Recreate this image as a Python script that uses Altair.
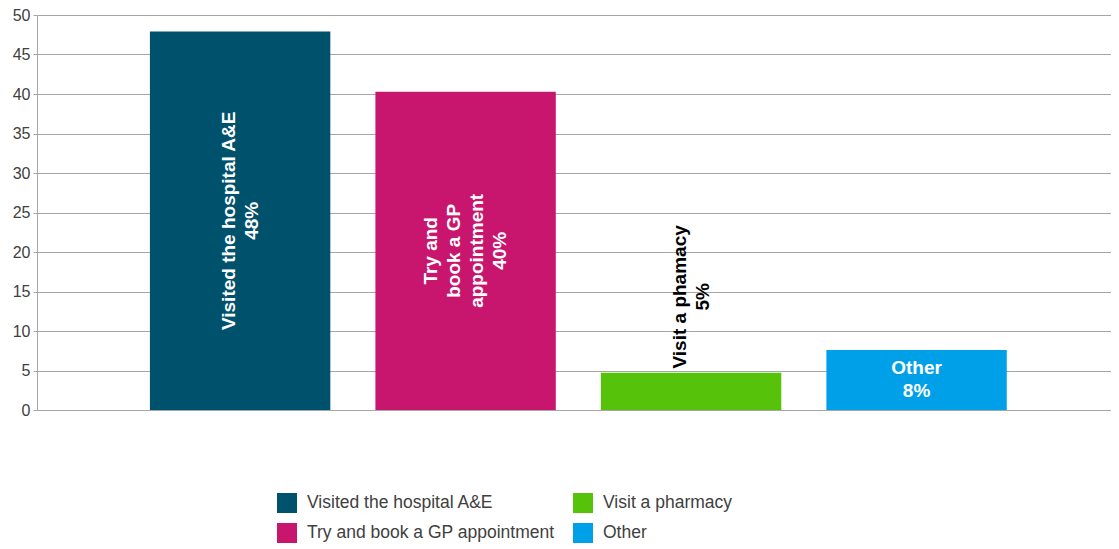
import altair as alt
import pandas as pd

categories = ["Visited the hospital A&E", "Try and book a GP appointment", "Visit a pharmacy", "Other"]
values = [47.9, 40.3, 4.7, 7.6]
bar_labels = [
    "Visited the hospital A&E\n48%",
    "Try and\nbook a GP\nappointment\n40%",
    "Visit a phamacy\n5%",
    "Other\n8%",
]
colors = ["#00516B", "#C8166F", "#56C20A", "#00A0E9"]
y_ticks = [0, 5, 10, 15, 20, 25, 30, 35, 40, 45, 50]

df = pd.DataFrame({"cat": categories, "value": values, "label": bar_labels,
                   "idx": list(range(len(categories)))})

FONT = "Liberation Sans"
GRID = "#a6a6a6"
LH = 23

x = alt.X("cat:N", sort=categories, axis=None,
          scale=alt.Scale(paddingInner=0.2, paddingOuter=0.4815, align=0.52))

y_axis = alt.Axis(values=y_ticks, labelFontSize=16, labelColor="#404040", labelFont=FONT,
                  tickSize=4, tickColor=GRID, domainColor=GRID, gridColor=GRID,
                  labelPadding=3, grid=True, labelOverlap=False)
y_scale = alt.Scale(domain=[0, 50], nice=False)

base = alt.Chart(df)

bars = base.mark_bar(strokeWidth=0).encode(
    x=x,
    y=alt.Y("value:Q", title=None, scale=y_scale, axis=y_axis),
    color=alt.Color("cat:N",
                    scale=alt.Scale(domain=categories, range=colors),
                    legend=alt.Legend(orient="none", legendX=240, legendY=478, columns=2,
                                      symbolType="square", symbolSize=400, symbolStrokeWidth=0,
                                      labelFontSize=17.5, labelFont=FONT, labelColor="#404040",
                                      labelOffset=10, labelLimit=500, rowPadding=10,
                                      columnPadding=18, title=None, padding=0)),
)


def label_layer(i, color, angle, dx, mid):
    n_lines = bar_labels[i].count("\n") + 1
    ch = base.transform_filter(f"datum.idx == {i}")
    field = "value"
    if mid:
        ch = ch.transform_calculate(mid="datum.value / 2")
        field = "mid"
    kw = dict(color=color, fontWeight="bold", fontSize=19, font=FONT, lineBreak="\n",
              lineHeight=LH, align="center", baseline="middle",
              dy=-(n_lines - 1) * LH / 2)
    if angle:
        kw["angle"] = angle
    if dx:
        kw["dx"] = dx
    return ch.mark_text(**kw).encode(
        x=x, y=alt.Y(f"{field}:Q", title=None, scale=y_scale, axis=y_axis), text="label:N"
    )


layers = [
    bars,
    label_layer(0, "white", 270, 0, True),
    label_layer(1, "white", 270, 0, True),
    label_layer(2, "black", 270, 76, False),
    label_layer(3, "white", 0, 0, True),
]

chart = alt.layer(*layers).properties(
    width=1074, height=395,
    autosize=alt.AutoSizeParams(type="none"),
    padding={"left": 29, "top": 7, "right": 0, "bottom": 135},
).configure_view(strokeWidth=0)

chart.save("out.html", embed_options={"renderer": "svg", "actions": False})
